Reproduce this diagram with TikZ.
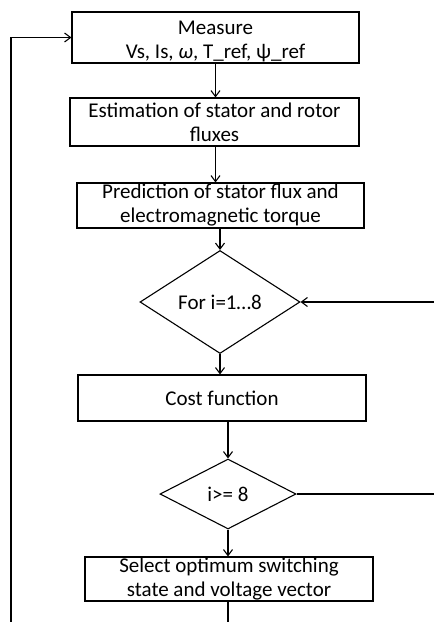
\documentclass[tikz,border=0pt]{standalone}
\usepackage{fontspec}
\setmainfont{Carlito}
\usetikzlibrary{shapes.geometric,arrows.meta}
\begin{document}
\begin{tikzpicture}[x=1pt,y=-1pt,
  every node/.style={font=\fontsize{21}{24}\selectfont, text=black},
  box/.style={draw=black, line width=1.1pt, rectangle, inner sep=0pt, align=center},
  dia/.style={draw=black, line width=1.1pt, diamond, inner sep=0pt, align=center},
  line/.style={draw=black, line width=1.1pt},
  arr/.style={line, -{Straight Barb[length=6pt,width=9pt]}}]
\useasboundingbox (0,0) rectangle (434,622);
\node[box, minimum width=287pt, minimum height=51pt] (m) at (215.5,37.5) {\rule{0pt}{21pt}Measure\\Vs, Is, \textit{ω}, T\_ref, ψ\_ref};
\node[box, minimum width=289pt, minimum height=48pt] (e) at (214.5,122) {Estimation of stator and rotor\\fluxes};
\node[box, minimum width=287pt, minimum height=45pt] (p) at (220.5,205.5) {Prediction of stator flux and\\electromagnetic torque};
\node[dia, minimum width=160pt, minimum height=103pt] (d1) at (220,302) {For i=1…8};
\node[box, minimum width=288pt, minimum height=46pt] (c) at (222,398) {Cost function};
\node[dia, minimum width=136pt, minimum height=70pt] (d2) at (228,494) {i>= 8};
\node[box, minimum width=288pt, minimum height=44pt] (s) at (229,579) {Select optimum  switching\\state and voltage vector};
\coordinate (lb) at (11,622);
\coordinate (lt) at (11,37.5);
\coordinate (r1) at (434,302);
\coordinate (r2) at (434,494);
\coordinate (bot) at (228,622);
\draw[arr] (m.south) -- (m.south |- e.north);
\draw[arr] (e.south -| m.south) -- (m.south |- p.north);
\draw[arr] (d1.north |- p.south) -- (d1.north);
\draw[arr] (d1.south) -- (d1.south |- c.north);
\draw[arr] (d2.north |- c.south) -- (d2.north);
\draw[arr] (d2.south) -- (d2.south |- s.north);
\draw[line] (s.south -| d2.south) -- (bot);
\draw[arr] (lb) -- (lt) -- (m.west);
\draw[arr] (r1) -- (d1.east);
\draw[line] (d2.east) -- (r2);
\end{tikzpicture}
\end{document}
